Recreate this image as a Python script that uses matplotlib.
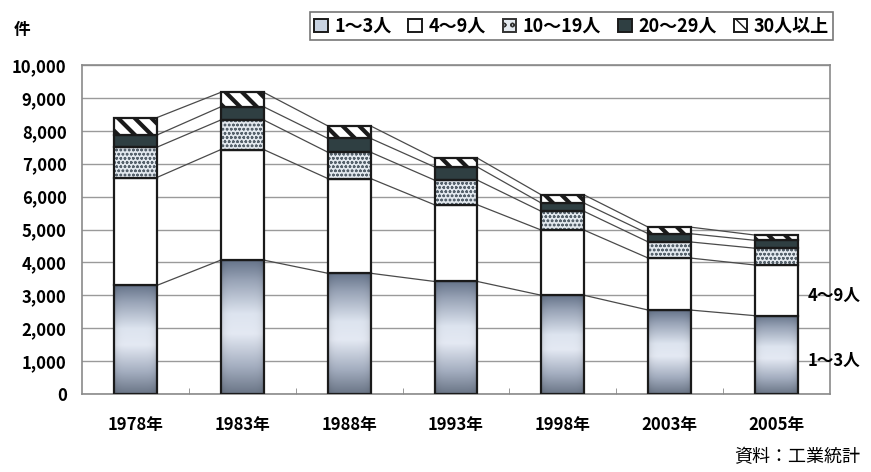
import numpy as np
import matplotlib
matplotlib.use("Agg")
import matplotlib.pyplot as plt
from matplotlib.patches import Patch, Rectangle
from matplotlib.colors import LinearSegmentedColormap

plt.rcParams['font.family'] = ['Noto Sans CJK JP', 'DejaVu Sans']

# Number of establishments by employee-size class
years = ['1978年', '1983年', '1988年', '1993年', '1998年', '2003年', '2005年']
size_1_3 = [3300, 4070, 3670, 3420, 3000, 2550, 2380]
size_4_9 = [3280, 3360, 2880, 2330, 1980, 1580, 1540]
size_10_19 = [920, 900, 800, 750, 570, 490, 510]
size_20_29 = [370, 400, 420, 400, 250, 250, 240]
size_30_up = [530, 440, 380, 270, 250, 200, 160]
series_labels = ['1～3人', '4～9人', '10～19人', '20～29人', '30人以上']
y_ticks = list(range(0, 10001, 1000))

W, H = 871, 472
fig = plt.figure(figsize=(W / 100, H / 100), dpi=100)
ax = fig.add_axes([82 / W, (H - 394) / H, (830 - 82) / W, (394 - 65) / H])

x = np.arange(len(years))
bw = 0.40
edge = '#1a1a1a'

series = [size_1_3, size_4_9, size_10_19, size_20_29, size_30_up]
cum = np.cumsum(np.array(series, dtype=float), axis=0)
bottoms = np.vstack([np.zeros(len(x)), cum[:-1]])

# steel-blue gradient used for the smallest size class
grad_cmap = LinearSegmentedColormap.from_list(
    'steel', [(0.0, '#6a7586'), (0.2, '#a3adbf'), (0.45, '#e4e9f3'),
              (0.6, '#dde4ef'), (0.85, '#98a3b6'), (1.0, '#66748a')])
gy = np.linspace(0, 1, 256)[:, None]
gx = np.linspace(-1, 1, 32)[None, :]
shade = gy * np.ones_like(gx)
edge_dark = 0.10 * gx ** 6

for i in range(len(x)):
    h = size_1_3[i]
    rect = Rectangle((x[i] - bw / 2, 0), bw, h, transform=ax.transData,
                     facecolor='none', edgecolor='none')
    ax.add_patch(rect)
    rgba = grad_cmap(shade)
    rgba[..., :3] *= (1 - edge_dark)[..., None]
    im = ax.imshow(rgba, extent=[x[i] - bw / 2, x[i] + bw / 2, 0, h],
                   origin='lower', aspect='auto', zorder=2,
                   interpolation='bilinear')
    im.set_clip_path(rect)
ax.bar(x, size_1_3, bw, facecolor='none', edgecolor=edge, lw=1.6, zorder=3)

ax.bar(x, size_4_9, bw, bottom=bottoms[1], facecolor='white', edgecolor=edge,
       lw=1.6, zorder=3)

with plt.rc_context({'hatch.linewidth': 0.7}):
    dots = ax.bar(x, size_10_19, bw, bottom=bottoms[2], facecolor='#e2e8ee',
                  edgecolor='#56626c', hatch='oooo', lw=0, zorder=3)
ax.bar(x, size_10_19, bw, bottom=bottoms[2], facecolor='none', edgecolor=edge,
       lw=1.6, zorder=4)

ax.bar(x, size_20_29, bw, bottom=bottoms[3], facecolor='#2f3f42', edgecolor=edge,
       lw=1.6, zorder=3)

with plt.rc_context({'hatch.linewidth': 3.0}):
    stripes = ax.bar(x, size_30_up, bw, bottom=bottoms[4], facecolor='white',
                     edgecolor='#1a1a1a', hatch='\\\\', lw=0, zorder=3)
for p in stripes:
    if hasattr(p, 'set_hatch_linewidth'):
        p.set_hatch_linewidth(3.0)
for p in dots:
    if hasattr(p, 'set_hatch_linewidth'):
        p.set_hatch_linewidth(0.7)
ax.bar(x, size_30_up, bw, bottom=bottoms[4], facecolor='none', edgecolor=edge,
       lw=1.6, zorder=4)

# series lines joining the stacked boundaries of adjacent bars
for level in cum:
    for i in range(len(x) - 1):
        ax.plot([x[i] + bw / 2, x[i + 1] - bw / 2], [level[i], level[i + 1]],
                color='#4a4a4a', lw=0.9, zorder=2)

ax.set_xlim(-0.5, len(x) - 0.5)
ax.set_ylim(0, 10000)
ax.set_yticks(y_ticks)
ax.set_yticklabels([f'{v:,}' for v in y_ticks], fontsize=12, fontweight='bold')
ax.set_xticks(x)
ax.set_xticklabels(years, fontsize=12, fontweight='bold')
ax.set_xticks(np.arange(0.5, len(x) - 1, 1), minor=True)
ax.tick_params(axis='x', which='major', length=0, pad=16)
ax.tick_params(axis='x', which='minor', length=4, direction='in', color='#888888')
ax.tick_params(axis='y', length=0, pad=11)
ax.yaxis.grid(True, color='#9a9a9a', lw=1.0)
ax.set_axisbelow(True)
for s in ax.spines.values():
    s.set_color('#8a8a8a')
    s.set_linewidth(1.2)

handles = [
    Patch(facecolor='#c8d3e2', edgecolor=edge, lw=1.4),
    Patch(facecolor='white', edgecolor=edge, lw=1.4),
    Patch(facecolor='#e4eaf0', edgecolor='#333333', hatch='oo', lw=1.4),
    Patch(facecolor='#2f3f42', edgecolor=edge, lw=1.4),
    Patch(facecolor='white', edgecolor=edge, hatch='\\\\', lw=1.4),
]
leg = fig.legend(handles, series_labels, loc='upper right',
                 bbox_to_anchor=(833 / W, 1 - 12 / H), ncol=5, frameon=True,
                 fancybox=False, edgecolor='#555555', handlelength=0.75,
                 handleheight=0.75, handletextpad=0.35, columnspacing=0.95,
                 borderpad=0.25, borderaxespad=0,
                 prop={'weight': 'bold', 'size': 13})
leg.get_frame().set_linewidth(1.2)

fig.text(14 / W, 1 - 30 / H, '件', fontsize=12, fontweight='bold', va='center')
fig.text(808 / W, 1 - 296 / H, '4～9人', fontsize=12, fontweight='bold', va='center')
fig.text(808 / W, 1 - 361 / H, '1～3人', fontsize=12, fontweight='bold', va='center')
fig.text(860 / W, 1 - 457 / H, '資料：工業統計', fontsize=13, ha='right', va='center')

fig.savefig('out.png', dpi=100)
